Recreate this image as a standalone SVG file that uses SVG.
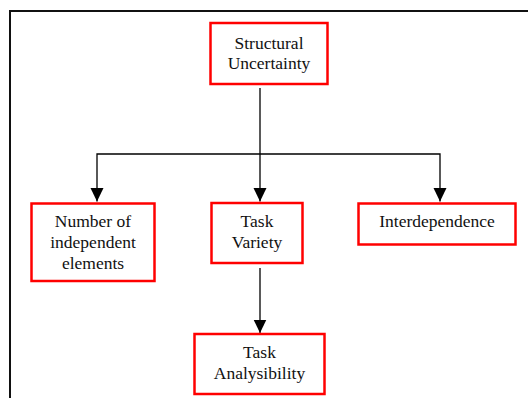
<svg xmlns="http://www.w3.org/2000/svg" width="528" height="398" viewBox="0 0 528 398">
<style>
.box{fill:#fff;stroke:#ff0000;stroke-width:2.5}
.t{font-family:"Liberation Serif","Times New Roman",serif;font-size:17.5px;fill:#111;text-anchor:middle}
.c{fill:none;stroke:#000;stroke-width:1.3}
</style>
<defs>
<marker id="ah" markerUnits="userSpaceOnUse" markerWidth="14" markerHeight="14" viewBox="0 0 14 14" refX="13.5" refY="7" orient="auto-start-reverse">
<path d="M0,0.5 L13.5,7 L0,13.5 Z" fill="#000"/>
</marker>
</defs>
<rect x="10" y="11" width="540" height="400" fill="#fff" stroke="#111" stroke-width="2"/>
<g id="connectors">
<path class="c" d="M260,88 V201.5" marker-end="url(#ah)"/>
<path class="c" d="M97,201.5 V154 H440 V201.5" marker-start="url(#ah)" marker-end="url(#ah)"/>
<path class="c" d="M260,268 V333" marker-end="url(#ah)"/>
</g>
<g id="structural">
<rect class="box" x="210.5" y="23" width="117" height="61"/>
<text class="t" x="269" y="48.5">Structural</text>
<text class="t" x="269" y="69.3">Uncertainty</text>
</g>
<g id="number">
<rect class="box" x="31.5" y="203.5" width="123" height="77.5"/>
<text class="t" x="93" y="227">Number of</text>
<text class="t" x="93" y="248">independent</text>
<text class="t" x="93" y="269">elements</text>
</g>
<g id="variety">
<rect class="box" x="211.5" y="203" width="91" height="60"/>
<text class="t" x="257" y="227">Task</text>
<text class="t" x="257" y="248">Variety</text>
</g>
<g id="interdependence">
<rect class="box" x="358.5" y="203.5" width="157" height="41"/>
<text class="t" x="437" y="227.3">Interdependence</text>
</g>
<g id="analysibility">
<rect class="box" x="194.5" y="334" width="130" height="60"/>
<text class="t" x="259.5" y="358.3">Task</text>
<text class="t" x="259.5" y="379.3">Analysibility</text>
</g>
</svg>
